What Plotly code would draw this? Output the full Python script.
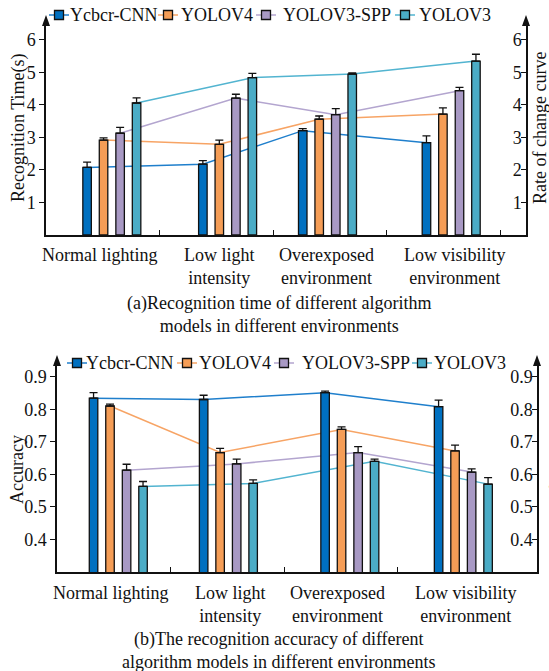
import plotly.graph_objects as go

W, H = 549, 671
FONT = "Liberation Serif, Times New Roman, Times, serif"
BLACK = "#111111"

models = ["Ycbcr-CNN", "YOLOV4", "YOLOV3-SPP", "YOLOV3"]
categories = ["Normal lighting", "Low light<br>intensity",
              "Overexposed<br>environment", "Low visibility<br>environment"]

# (a) recognition time in seconds, with upper error values
time_ycbcr = [2.08, 2.18, 3.21, 2.84]
time_ycbcr_err = [0.16, 0.11, 0.06, 0.21]
time_yolov4 = [2.92, 2.79, 3.56, 3.72]
time_yolov4_err = [0.07, 0.13, 0.10, 0.19]
time_spp = [3.13, 4.21, 3.70, 4.44]
time_spp_err = [0.18, 0.12, 0.19, 0.10]
time_yolov3 = [4.06, 4.84, 4.95, 5.35]
time_yolov3_err = [0.16, 0.13, 0.04, 0.21]

# (b) recognition accuracy, with upper error values
acc_ycbcr = [0.834, 0.830, 0.851, 0.808]
acc_ycbcr_err = [0.017, 0.013, 0.005, 0.020]
acc_yolov4 = [0.810, 0.667, 0.738, 0.672]
acc_yolov4_err = [0.006, 0.013, 0.008, 0.018]
acc_spp = [0.613, 0.632, 0.667, 0.607]
acc_spp_err = [0.018, 0.015, 0.018, 0.010]
acc_yolov3 = [0.563, 0.572, 0.640, 0.570]
acc_yolov3_err = [0.015, 0.011, 0.007, 0.020]

time_ticks = [1, 2, 3, 4, 5, 6]
acc_ticks = [0.4, 0.5, 0.6, 0.7, 0.8, 0.9]

bar_colors = ["#0070C0", "#F59D56", "#A899C4", "#4BACC6"]
line_colors = ["#1F7FCC", "#F7A465", "#B3A5CF", "#52B4D0"]

# layout constants (axis units: one slot between x ticks = 1)
X_RANGE = [0, 4.229]
BAR_W = 0.075
BAR_OFFSETS = [-0.218, -0.073, 0.073, 0.218]
LABEL_POS = [0.475, 1.53, 2.475, 3.6]


def px_x(v):
    return v / W


def px_y(v):
    return 1 - v / H


panels = [
    dict(xname="x", yname="y", y2name="y2", xa="xaxis", ya="yaxis", ya2="yaxis2",
         left=46, right=526, top=25, bottom=235, yrange=[0, 6.46],
         ticks=time_ticks, ticktext=[str(t) for t in time_ticks],
         centers=[0.58, 1.60, 2.48, 3.57],
         series=[(time_ycbcr, time_ycbcr_err), (time_yolov4, time_yolov4_err),
                 (time_spp, time_spp_err), (time_yolov3, time_yolov3_err)],
         ltitle="Recognition Time(s)", ltitle_pos=(18, 128),
         rtitle="Rate of change curve", rtitle_pos=(540, 128),
         legend_y=15, legend_cx=[59, 168, 266, 405], legend_tx=[68, 179, 281, 417],
         label_top=243,
         caption="(a)Recognition time of different algorithm<br>models in different environments",
         caption_pos=(279, 291)),
    dict(xname="x2", yname="y3", y2name="y4", xa="xaxis2", ya="yaxis3", ya2="yaxis4",
         left=57, right=537, top=365, bottom=572, yrange=[0.3, 0.936],
         ticks=acc_ticks, ticktext=["%.1f" % t for t in acc_ticks],
         centers=[0.54, 1.51, 2.58, 3.58],
         series=[(acc_ycbcr, acc_ycbcr_err), (acc_yolov4, acc_yolov4_err),
                 (acc_spp, acc_spp_err), (acc_yolov3, acc_yolov3_err)],
         ltitle="Accuracy", ltitle_pos=(17, 470),
         rtitle="Rate of change curve", rtitle_pos=(557, 462),
         legend_y=363, legend_cx=[77, 187, 284, 422], legend_tx=[84, 197, 300, 432],
         label_top=581,
         caption="(b)The recognition accuracy of different<br>algorithm models in different environments",
         caption_pos=(279, 627)),
]

fig = go.Figure()
shapes = []
annotations = []
layout = {}

for p in panels:
    # change curves on the base axis so the bars sit above them
    for i, (vals, _) in enumerate(p["series"]):
        xs = [c + BAR_OFFSETS[i] for c in p["centers"]]
        fig.add_trace(go.Scatter(
            x=xs, y=vals, mode="lines", line=dict(color=line_colors[i], width=1.5),
            xaxis=p["xname"], yaxis=p["yname"], showlegend=False, hoverinfo="skip"))
    for i, (vals, err) in enumerate(p["series"]):
        xs = [c + BAR_OFFSETS[i] for c in p["centers"]]
        fig.add_trace(go.Bar(
            x=xs, y=vals, width=BAR_W, name=models[i],
            marker=dict(color=bar_colors[i], line=dict(color=BLACK, width=1.3)),
            error_y=dict(type="data", symmetric=False, array=err,
                         arrayminus=[0] * len(err), color=BLACK,
                         thickness=1.3, width=4),
            xaxis=p["xname"], yaxis=p["y2name"], showlegend=False))

    ydom = [px_y(p["bottom"]), px_y(p["top"])]
    common_y = dict(domain=ydom, range=p["yrange"], tickvals=p["ticks"],
                    ticktext=p["ticktext"], ticklen=5, tickwidth=1.3,
                    tickcolor=BLACK, showline=True, linecolor=BLACK,
                    linewidth=1.5, showgrid=False, zeroline=False,
                    tickfont=dict(family=FONT, size=18, color=BLACK),
                    fixedrange=True)
    layout[p["xa"]] = dict(domain=[px_x(p["left"]), px_x(p["right"])],
                           range=X_RANGE, anchor=p["yname"],
                           tickvals=[1, 2, 3, 4], ticks="inside", ticklen=5,
                           tickwidth=1.3, tickcolor=BLACK,
                           showticklabels=False, showline=True,
                           linecolor=BLACK, linewidth=1.5, showgrid=False,
                           zeroline=False, fixedrange=True)
    layout[p["ya"]] = dict(anchor=p["xname"], side="left", ticks="outside",
                           **common_y)
    layout[p["ya2"]] = dict(anchor=p["xname"], side="right",
                            overlaying=p["yname"], ticks="inside",
                            ticklabelposition="inside", **common_y)

    # arrowheads at the top of both value axes
    for ax_px in (p["left"], p["right"]):
        tip = p["top"] - 10
        shapes.append(dict(
            type="path", xref="paper", yref="paper",
            path=(f"M {px_x(ax_px)},{px_y(tip)} "
                  f"L {px_x(ax_px - 4)},{px_y(tip + 11)} "
                  f"L {px_x(ax_px + 4)},{px_y(tip + 11)} Z"),
            fillcolor=BLACK, line=dict(width=0)))

    # legend: line with square marker, then name
    for i in range(4):
        cx, ly = p["legend_cx"][i], p["legend_y"]
        shapes.append(dict(type="line", xref="paper", yref="paper",
                           x0=px_x(cx - 10), x1=px_x(cx + 10),
                           y0=px_y(ly), y1=px_y(ly),
                           line=dict(color=line_colors[i], width=1.5)))
        shapes.append(dict(type="rect", xref="paper", yref="paper",
                           x0=px_x(cx - 4.5), x1=px_x(cx + 4.5),
                           y0=px_y(ly + 4.5), y1=px_y(ly - 4.5),
                           fillcolor=bar_colors[i],
                           line=dict(color=BLACK, width=1.3)))
        annotations.append(dict(
            text=models[i], xref="paper", yref="paper",
            x=px_x(p["legend_tx"][i]), y=px_y(ly), xanchor="left",
            yanchor="middle", showarrow=False,
            font=dict(family=FONT, size=18, color=BLACK)))

    # category labels under each group
    for pos, cat in zip(LABEL_POS, categories):
        annotations.append(dict(
            text=cat, xref=p["xname"], yref="paper", x=pos,
            y=px_y(p["label_top"]), xanchor="center", yanchor="top",
            showarrow=False, align="center",
            font=dict(family=FONT, size=18, color=BLACK)))

    # axis titles
    for txt, (tx, ty) in ((p["ltitle"], p["ltitle_pos"]),
                          (p["rtitle"], p["rtitle_pos"])):
        annotations.append(dict(
            text=txt, xref="paper", yref="paper", x=px_x(tx), y=px_y(ty),
            xanchor="center", yanchor="middle", textangle=-90,
            showarrow=False, font=dict(family=FONT, size=18, color=BLACK)))

    # panel caption
    cx, cy = p["caption_pos"]
    annotations.append(dict(
        text=p["caption"], xref="paper", yref="paper", x=px_x(cx),
        y=px_y(cy), xanchor="center", yanchor="top", align="center",
        showarrow=False, font=dict(family=FONT, size=18, color=BLACK)))

fig.update_layout(
    width=W, height=H, margin=dict(l=0, r=0, t=0, b=0),
    paper_bgcolor="white", plot_bgcolor="white",
    barmode="overlay", showlegend=False,
    font=dict(family=FONT, size=18, color=BLACK),
    shapes=shapes, annotations=annotations, **layout)

fig.write_html("out.html", config={"displayModeBar": False})
